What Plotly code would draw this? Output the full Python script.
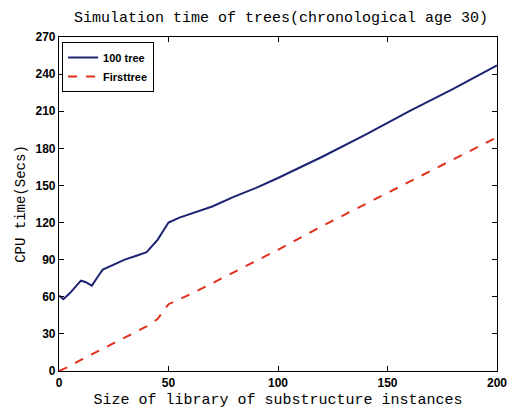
import plotly.graph_objects as go

# Library size (x) and CPU time (secs)
x_100 = [0, 2, 5, 8, 10, 12, 15, 18, 20, 25, 30, 35, 40, 45, 50, 55, 60, 70, 80, 90, 100, 120, 140, 160, 180, 200]
y_100 = [61, 58, 63, 69, 73, 72, 69, 77, 82, 86, 90, 93, 96, 106, 120, 124, 127, 133, 141, 148, 156, 173, 191, 210, 228, 247]

x_first = [0, 5, 10, 20, 30, 40, 45, 50, 60, 70, 80, 100, 120, 150, 175, 200]
y_first = [0, 4, 9, 18, 27, 36, 42, 54, 62, 71, 80, 98, 117, 144, 166, 189]

x_ticks = [0, 50, 100, 150, 200]
y_ticks = [0, 30, 60, 90, 120, 150, 180, 210, 240, 270]

title_text = "Simulation time of trees(chronological age 30)"
x_title = "Size of library of substructure instances"
y_title = "CPU time(Secs)"

mono = "Liberation Mono, DejaVu Sans Mono, monospace"
sans = "Liberation Sans, Arial, sans-serif"

fig = go.Figure()
fig.add_trace(go.Scatter(x=x_100, y=y_100, mode="lines", name="100 tree",
                         line=dict(color="#1c2373", width=2)))
fig.add_trace(go.Scatter(x=x_first, y=y_first, mode="lines", name="Firsttree",
                         line=dict(color="#e0301c", width=2, dash="dash")))

axis_common = dict(showline=True, linecolor="black", linewidth=1.2, mirror="ticks",
                   ticks="inside", ticklen=5, tickcolor="black", showgrid=False,
                   zeroline=False, automargin=False,
                   tickfont=dict(family=sans, size=12, color="black", weight="bold"))

fig.update_layout(
    width=508, height=409,
    margin=dict(l=59, r=11, t=37, b=38),
    paper_bgcolor="white", plot_bgcolor="white",
    title=dict(text=title_text, x=0.553, xanchor="center", y=1 - 17 / 409, yanchor="middle",
               font=dict(family=mono, size=15, color="black")),
    xaxis=dict(range=[0, 200], tickvals=x_ticks, ticktext=[str(v) for v in x_ticks],
               title=dict(text=x_title, font=dict(family=mono, size=15, color="black"), standoff=4),
               **axis_common),
    yaxis=dict(range=[0, 270], tickvals=y_ticks, ticktext=[str(v) for v in y_ticks],
               title=dict(text=y_title, font=dict(family=mono, size=14, color="black"), standoff=6),
               **axis_common),
    legend=dict(x=0.007, y=0.985, xanchor="left", yanchor="top",
                bgcolor="white", bordercolor="black", borderwidth=1,
                font=dict(family=sans, size=11, color="black", weight="bold"),
                itemwidth=30, tracegroupgap=0),
    showlegend=True,
)

fig.write_html("out.html", config={"displayModeBar": False},
               post_script="document.body.style.margin='0px';document.body.style.overflow='hidden';")
